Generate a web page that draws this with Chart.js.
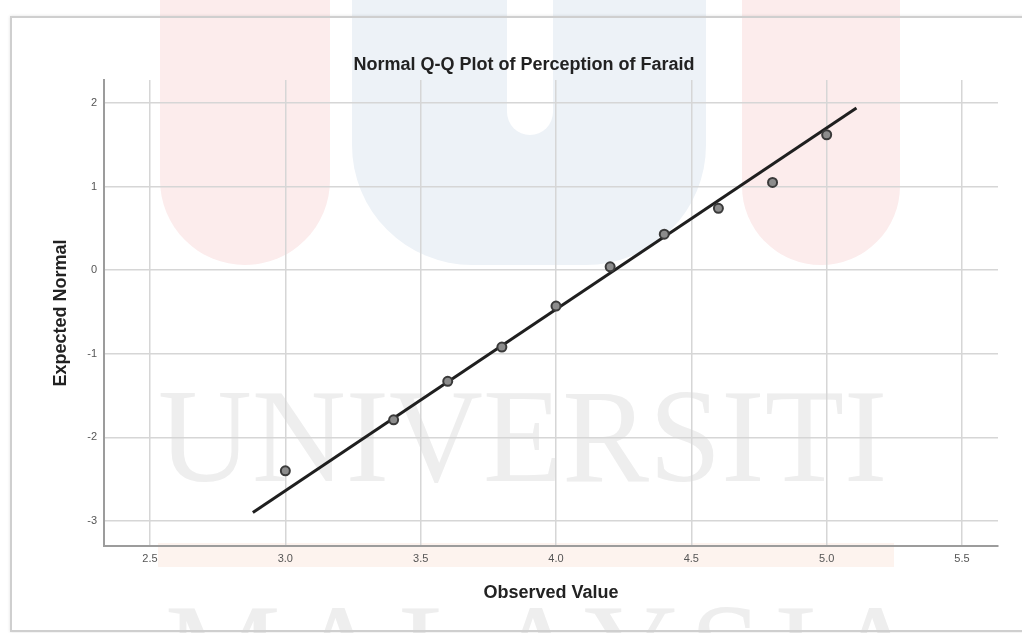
<!DOCTYPE html>
<html>
<head>
<meta charset="utf-8">
<script src="https://cdn.jsdelivr.net/npm/chart.js@4.4.1/dist/chart.umd.min.js"></script>
<style>
  html, body { margin: 0; padding: 0; background: #ffffff; }
  #wrap { position: relative; width: 1022px; height: 633px; overflow: hidden; background: #ffffff; }
  .wm { position: absolute; }
  #pinkL { left: 160px; top: -10px; width: 170px; height: 275px; background: #fcecec; border-radius: 0 0 85px 85px; }
  #blue { left: 352px; top: -10px; width: 354px; height: 275px; background: #edf2f7; border-radius: 0 0 120px 120px; }
  #notch { left: 507px; top: -10px; width: 46px; height: 145px; background: #ffffff; border-radius: 0 0 23px 23px; }
  #pinkR { left: 742px; top: -10px; width: 158px; height: 275px; background: #fcecec; border-radius: 0 0 80px 80px; }
  #peach { left: 158px; top: 543px; width: 736px; height: 24px; background: #fdf3ee; }
  .wmtext { position: absolute; font-family: "Liberation Serif", "DejaVu Serif", serif; color: #eeeeee; font-size: 130px; line-height: 1; white-space: nowrap; transform-origin: 0 0; transform: scale(1, 1.02); }
  #uni { left: 158px; top: 370px; letter-spacing: 0px; }
  #mal { left: 165px; top: 585px; letter-spacing: 12px; }
  #frame { position: absolute; left: 10px; top: 16px; width: 1030px; height: 612px; border: 2px solid #cfcfcf; box-shadow: 0 0 3px rgba(0,0,0,0.12); }
  #c { position: absolute; left: 0; top: 0; }
</style>
</head>
<body>
<div id="wrap">
  <div class="wm" id="pinkL"></div>
  <div class="wm" id="blue"></div>
  <div class="wm" id="notch"></div>
  <div class="wm" id="pinkR"></div>
  <div class="wm" id="peach"></div>
  <div class="wmtext" id="uni">UNIVERSITI</div>
  <div class="wmtext" id="mal">MALAYSIA</div>
  <div id="frame"></div>
  <canvas id="c" width="1022" height="633"></canvas>
</div>
<script>
// ---- data ----
const chartTitle = "Normal Q-Q Plot of Perception of Faraid";
const xAxisTitle = "Observed Value";
const yAxisTitle = "Expected Normal";
const observedValues = [3.0, 3.4, 3.6, 3.8, 4.0, 4.2, 4.4, 4.6, 4.8, 5.0];
const expectedNormal = [-2.40, -1.79, -1.33, -0.92, -0.43, 0.04, 0.43, 0.74, 1.05, 1.62];
const refLineX = [2.88, 5.11];
const refLineY = [-2.90, 1.94];
const xTicks = [2.5, 3.0, 3.5, 4.0, 4.5, 5.0, 5.5];
const yTicks = [-3, -2, -1, 0, 1, 2];
const xRange = [2.33, 5.633];
const yRange = [-3.30, 2.275];

const pointData = observedValues.map((x, i) => ({ x: x, y: expectedNormal[i] }));
const lineData = refLineX.map((x, i) => ({ x: x, y: refLineY[i] }));

const gridColor = '#d6d6d6';
const axisColor = '#9c9c9c';
const tickFont = { family: "'Liberation Sans Narrow', 'Liberation Sans', Arial, sans-serif", size: 11 };
const titleFont = { family: "'Liberation Sans', Arial, sans-serif", size: 18, weight: 'bold' };

new Chart(document.getElementById('c'), {
  type: 'scatter',
  data: {
    datasets: [
      {
        type: 'line',
        data: lineData,
        borderColor: '#1f1f1f',
        borderWidth: 3,
        pointRadius: 0,
        fill: false,
        order: 2
      },
      {
        type: 'scatter',
        data: pointData,
        pointRadius: 4.5,
        pointBorderWidth: 2,
        borderColor: '#3a3a3a',
        backgroundColor: '#8c8c8c',
        order: 1
      }
    ]
  },
  options: {
    responsive: false,
    animation: false,
    devicePixelRatio: 1,
    layout: { padding: { left: 50, top: 0, right: 24, bottom: 0 } },
    plugins: {
      legend: { display: false },
      tooltip: { enabled: false },
      title: {
        display: true,
        text: chartTitle,
        color: '#222222',
        font: titleFont,
        padding: { top: 54, bottom: 4.4 }
      }
    },
    scales: {
      x: {
        type: 'linear',
        min: xRange[0],
        max: xRange[1],
        afterBuildTicks: (s) => { s.ticks = xTicks.map(v => ({ value: v })); },
        afterFit: (s) => { s.height = 87; },
        ticks: {
          color: '#555555',
          font: tickFont,
          padding: 6,
          callback: (v) => Number(v).toFixed(1)
        },
        grid: { color: gridColor, lineWidth: 1.5, drawTicks: false },
        border: { display: true, color: axisColor, width: 2 },
        title: {
          display: true,
          text: xAxisTitle,
          color: '#222222',
          font: titleFont,
          padding: { top: 0, bottom: 29 }
        }
      },
      y: {
        type: 'linear',
        min: yRange[0],
        max: yRange[1],
        afterBuildTicks: (s) => { s.ticks = yTicks.map(v => ({ value: v })); },
        afterFit: (s) => { s.width = 54; },
        ticks: {
          color: '#555555',
          font: tickFont,
          padding: 7,
          callback: (v) => String(v)
        },
        grid: { color: gridColor, lineWidth: 1.5, drawTicks: false },
        border: { display: true, color: axisColor, width: 2 },
        title: {
          display: true,
          text: yAxisTitle,
          color: '#222222',
          font: titleFont,
          padding: { top: 0.5, bottom: 0 }
        }
      }
    }
  }
});
</script>
</body>
</html>
